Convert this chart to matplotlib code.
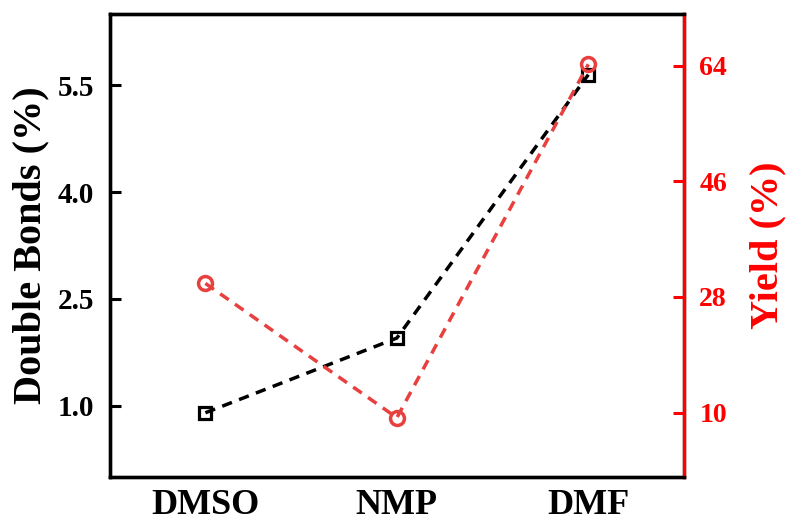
import matplotlib
matplotlib.use('Agg')
import matplotlib.pyplot as plt
import numpy as np

solvents = ['DMSO', 'NMP', 'DMF']
double_bonds = [0.90, 1.95, 5.65]
yield_pct = [30.1, 9.2, 64.2]

left_ticks = [1.0, 2.5, 4.0, 5.5]
right_ticks = [10, 28, 46, 64]

plt.rcParams['font.family'] = ['Liberation Serif', 'DejaVu Serif']
plt.rcParams['font.weight'] = 'bold'

fig = plt.figure(figsize=(7.89, 5.24), dpi=100)
ax1 = fig.add_axes([0.139, 0.090, 0.728, 0.883])
ax2 = ax1.twinx()

x = np.arange(len(solvents))

ax1.plot(x, double_bonds, linestyle='--', color='black', linewidth=2.5,
         marker='s', markersize=8, markerfacecolor='none',
         markeredgewidth=2.3, dashes=(3, 2.2))
ax2.plot(x, yield_pct, linestyle='--', color='#e8403f', linewidth=2.5,
         marker='o', markersize=10, markerfacecolor='none',
         markeredgewidth=2.5, dashes=(3, 2.2))

ax1.set_xlim(-0.5, 2.5)
ax1.set_ylim(0, 6.5)
ax2.set_ylim(0, 72)

ax1.set_xticks(x)
ax1.set_xticklabels(solvents, fontsize=26, fontweight='bold')
ax1.tick_params(axis='x', length=0, pad=9)
ax1.set_yticks(left_ticks)
ax1.set_yticklabels([f'{v:.1f}' for v in left_ticks], fontsize=21, fontweight='bold')
ax1.tick_params(axis='y', direction='in', length=8, width=2.2, pad=11)

ax2.set_yticks(right_ticks)
ax2.set_yticklabels([str(v) for v in right_ticks], fontsize=20,
                    fontweight='bold', color='red')
ax2.tick_params(axis='y', direction='in', length=8, width=2.2, pad=11,
                color='red')

ax1.set_ylabel('Double Bonds (%)', fontsize=29, fontweight='bold', labelpad=6)
ax2.set_ylabel('Yield (%)', fontsize=29, fontweight='bold', color='red',
               labelpad=16)

for name, sp in ax1.spines.items():
    sp.set_linewidth(2.4)
for name, sp in ax2.spines.items():
    sp.set_linewidth(2.4)
ax2.spines['right'].set_color('red')

fig.savefig('out.png', dpi=100)
